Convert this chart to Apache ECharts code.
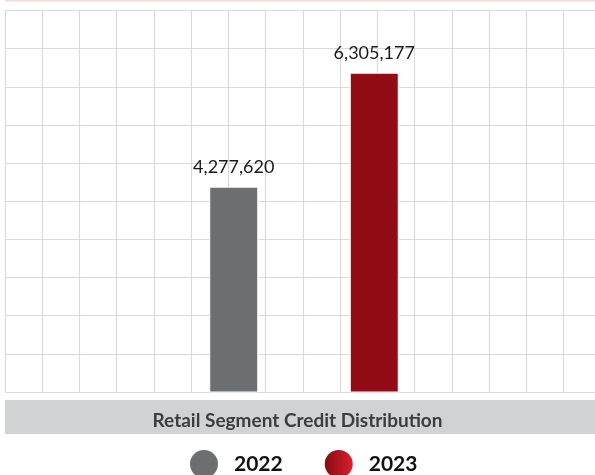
<!DOCTYPE html>
<html>
<head>
<meta charset="utf-8">
<script src="https://cdn.jsdelivr.net/npm/echarts@6/dist/echarts.min.js"></script>
<style>html,body{margin:0;padding:0;background:#fff;}#c{width:595px;height:475px;}</style>
</head>
<body>
<div id="c"></div>
<script>
var categories = ['2022', '2023'];
var seriesNames = ['2022', '2023'];
var values2022 = [4277620, null];
var values2023 = [null, 6305177];
var chartTitle = 'Retail Segment Credit Distribution';

var chart = echarts.init(document.getElementById('c'), null, {renderer: 'canvas'});
var redGrad = new echarts.graphic.LinearGradient(0, 0, 1, 0, [
  {offset: 0, color: '#7e0a12'}, {offset: 1, color: '#e41f2d'}
]);
var fmt = function (p) { return p.value == null ? '' : Number(p.value).toLocaleString('en-US'); };
var labelStyle = {show: true, position: 'top', distance: 10, formatter: fmt,
  fontFamily: 'Lato', fontWeight: 'normal', fontSize: 18, color: '#1a1a1a'};

chart.setOption({
  animation: false,
  textStyle: {fontFamily: 'Lato'},
  title: {
    text: chartTitle, left: 'center', top: 406,
    textStyle: {fontFamily: 'Lato', fontWeight: 'bold', fontSize: 19, color: '#3d3d3f'}
  },
  graphic: [
    {type: 'rect', z: -10, shape: {x: 5, y: 400, width: 590, height: 34}, style: {fill: '#d1d2d4'}},
    {type: 'rect', z: -10, shape: {x: 5, y: 0, width: 590, height: 1.5}, style: {fill: '#f2dcdc'}}
  ],
  legend: {
    left: 183, top: 443, itemWidth: 30, itemHeight: 30, itemGap: 40, icon: 'circle',
    textStyle: {fontFamily: 'Lato', fontWeight: 'bold', fontSize: 21, color: '#111', padding: [0, 0, 0, 10]},
    data: [
      {name: seriesNames[0], itemStyle: {color: '#6d6e70'}},
      {name: seriesNames[1], itemStyle: {color: redGrad}}
    ]
  },
  grid: [
    {left: 5, top: 10.5, right: 0, height: 381.5},
    {left: 163.5, top: 10.5, width: 281, height: 381.5}
  ],
  xAxis: [
    {gridIndex: 0, type: 'value', min: 0, max: 15.84, interval: 1,
     axisLine: {show: false}, axisTick: {show: false}, axisLabel: {show: false},
     splitLine: {show: true, showMaxLine: false, lineStyle: {color: '#dadada', width: 1.2}}},
    {gridIndex: 1, type: 'category', data: categories,
     axisLine: {show: false}, axisTick: {show: false}, axisLabel: {show: false}, splitLine: {show: false}}
  ],
  yAxis: [
    {gridIndex: 0, type: 'value', min: 0, max: 10, interval: 1,
     axisLine: {show: false}, axisTick: {show: false}, axisLabel: {show: false},
     splitLine: {show: true, lineStyle: {color: '#dadada', width: 1.2}}},
    {gridIndex: 1, type: 'value', min: 626000, max: 7411000,
     axisLine: {show: false}, axisTick: {show: false}, axisLabel: {show: false}, splitLine: {show: false}}
  ],
  series: [
    {name: seriesNames[0], type: 'bar', xAxisIndex: 1, yAxisIndex: 1, data: values2022,
     barWidth: 49, barGap: '-100%',
     itemStyle: {color: '#6d6e70', borderColor: '#ffffff', borderWidth: 1},
     label: labelStyle},
    {name: seriesNames[1], type: 'bar', xAxisIndex: 1, yAxisIndex: 1, data: values2023,
     barWidth: 49, barGap: '-100%',
     itemStyle: {color: '#920c16', borderColor: '#ffffff', borderWidth: 1},
     label: labelStyle}
  ]
});
</script>
</body>
</html>
